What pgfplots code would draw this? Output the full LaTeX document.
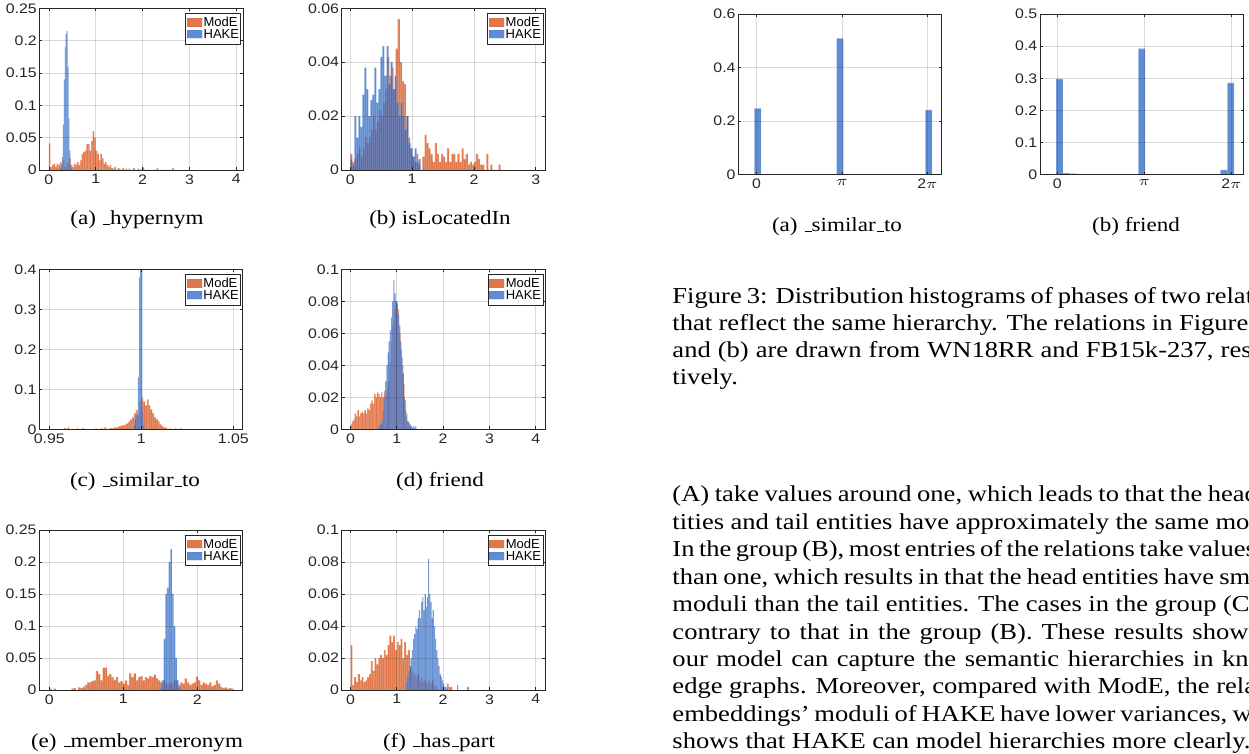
\documentclass[border=0pt]{standalone}
\usepackage{fontspec}
\setmainfont{Liberation Serif}
\newfontfamily\arialf{Liberation Sans}
\usepackage{pgfplots}
\pgfplotsset{compat=1.18}

\definecolor{axgray}{RGB}{38,38,38}
\definecolor{modeC}{RGB}{217,83,25}
\definecolor{hakeC}{RGB}{40,100,195}

\newcommand\tickfont{\arialf\fontsize{6.9}{8}\selectfont}
\newcommand\legfont{\arialf\fontsize{6.5}{6.5}\selectfont}
\newcommand\capfont{\fontsize{10}{12}\selectfont}
\newcommand\bodyfont{\fontsize{11.4}{13.7}\selectfont}
% underscore as LaTeX sets it with Times: a short rule on the baseline
\newcommand\us{\leavevmode\kern.06em\rule{.3em}{0.4pt}}

\pgfplotsset{
  mat/.style={
    scale only axis,
    anchor=south west,
    axis on top,
    axis line style={draw=axgray, line width=0.4pt},
    every tick/.style={draw=axgray, line width=0.35pt},
    tick align=inside,
    major tick length=1.4pt,
    grid=major,
    major grid style={draw=axgray, draw opacity=0.17, line width=0.35pt},
    scaled ticks=false,
    ticklabel style={font=\tickfont, text=axgray, xscale=1.15},
    /pgf/number format/assume math mode=true,
    /pgf/number format/fixed,
    /pgf/number format/precision=3,
    yticklabel style={inner sep=1pt},
    xticklabel style={inner sep=2pt},
    ymin=0,
    legend cell align=left,
    legend style={at={(1,1)}, anchor=north east, xshift=-0.8pt, yshift=-2.3pt,
      draw=axgray, line width=0.45pt, fill=white, inner xsep=0.5pt, inner ysep=1.8pt,
      font=\legfont, row sep=0pt, column sep=0.3pt,
      nodes={inner sep=0.4pt, text height=4.6pt, text depth=0.5pt}},
  },
  modebar/.style={ybar interval, fill=modeC, fill opacity=0.78,
    draw=white, draw opacity=0.15, line width=0.2pt,
    legend image code/.code={\fill[modeC, fill opacity=0.78] (0pt,-1.9pt) rectangle (7.5pt,2.3pt);}},
  hakebar/.style={ybar interval, fill=hakeC, fill opacity=0.74,
    draw=white, draw opacity=0.15, line width=0.2pt,
    legend image code/.code={\fill[hakeC, fill opacity=0.74] (0pt,-1.9pt) rectangle (7.5pt,2.3pt);}},
}

\begin{document}
\begin{tikzpicture}
\path[use as bounding box] (0pt,0pt) rectangle (624.5pt,-377pt);

% (a) _hypernym
\begin{axis}[mat, at={(19.75pt,-85pt)}, width=101.7pt, height=80.85pt,
  xmin=-0.2, xmax=4.14, ymax=0.25, xtick={0,1,2,3,4}, ytick={0,0.05,0.1,0.15,0.2,0.25}]
\addplot[modebar] coordinates {(0,0.041)(0.033,0.005)(0.067,0.008)(0.1,0.010)(0.133,0.005)(0.167,0.010)(0.2,0.008)(0.233,0.012)(0.267,0.010)(0.3,0.015)(0.333,0.005)(0.367,0.010)(0.4,0.012)(0.433,0.018)(0.467,0.008)(0.5,0.005)(0.533,0.010)(0.567,0.008)(0.6,0.012)(0.633,0.008)(0.667,0.015)(0.7,0.025)(0.733,0.028)(0.767,0.030)(0.8,0.040)(0.833,0.040)(0.867,0.030)(0.9,0.045)(0.933,0.060)(0.967,0.050)(1,0.030)(1.033,0.025)(1.067,0.015)(1.1,0.025)(1.133,0.018)(1.167,0.010)(1.2,0.012)(1.233,0.008)(1.267,0.005)(1.3,0.008)(1.333,0.003)(1.367,0.002)(1.4,0.005)(1.433,0)(1.467,0.003)(1.5,0.002)(1.533,0)(1.567,0.003)(1.6,0)(1.633,0.002)(1.667,0)(1.7,0.002)(1.733,0)(1.8,0.003)(1.833,0)(1.9,0.002)(1.933,0)(2,0.004)(2.033,0)(2.3,0.003)(2.333,0)(2.633,0.003)(2.667,0)};
\addplot[hakebar] coordinates {(0.24,0.002)(0.26,0.005)(0.28,0.02)(0.30,0.07)(0.32,0.14)(0.34,0.19)(0.36,0.21)(0.38,0.215)(0.40,0.16)(0.42,0.08)(0.44,0.03)(0.46,0.008)(0.48,0.002)(0.50,0)};
\legend{ModE,HAKE}
\end{axis}

% (b) isLocatedIn
\begin{axis}[mat, at={(170.85pt,-85pt)}, width=101.65pt, height=80.85pt,
  xmin=-0.14, xmax=3.15, ymax=0.06, xtick={0,1,2,3}, ytick={0,0.02,0.04,0.06}]
\addplot[modebar] coordinates {(0,0.006)(0.033,0.003)(0.067,0.004)(0.1,0.006)(0.133,0.008)(0.167,0.005)(0.2,0.008)(0.233,0.012)(0.267,0.010)(0.3,0.012)(0.333,0.015)(0.367,0.020)(0.4,0.015)(0.433,0.018)(0.467,0.022)(0.5,0.020)(0.533,0.025)(0.567,0.030)(0.6,0.042)(0.633,0.035)(0.667,0.038)(0.7,0.030)(0.733,0.045)(0.767,0.056)(0.8,0.040)(0.833,0.033)(0.867,0.032)(0.9,0.020)(0.933,0.012)(0.967,0.008)(1,0.005)(1.033,0.003)(1.067,0.006)(1.1,0.002)(1.133,0)(1.167,0.005)(1.2,0.013)(1.233,0.010)(1.267,0.008)(1.3,0.006)(1.333,0.003)(1.367,0.010)(1.4,0.006)(1.433,0.003)(1.467,0.006)(1.5,0.005)(1.533,0.003)(1.567,0.008)(1.6,0.003)(1.633,0.006)(1.667,0.006)(1.7,0.003)(1.733,0.006)(1.767,0.003)(1.8,0.008)(1.833,0.004)(1.867,0.006)(1.9,0.002)(1.933,0.003)(1.967,0.002)(2,0.003)(2.033,0.006)(2.067,0.004)(2.1,0.002)(2.133,0.002)(2.167,0)(2.2,0.006)(2.233,0)(2.267,0.002)(2.3,0)(2.4,0.002)(2.433,0)};
\addplot[hakebar] coordinates {(0,0.004)(0.0325,0.002)(0.065,0.020)(0.0975,0.012)(0.13,0.020)(0.1625,0.016)(0.195,0.028)(0.2275,0.038)(0.26,0.030)(0.2925,0.020)(0.325,0.026)(0.3575,0.028)(0.39,0.038)(0.4225,0.025)(0.455,0.030)(0.4875,0.042)(0.52,0.046)(0.5525,0.035)(0.585,0.046)(0.6175,0.032)(0.65,0.040)(0.6825,0.030)(0.715,0.035)(0.7475,0.025)(0.78,0.020)(0.8125,0.025)(0.845,0.020)(0.8775,0.015)(0.91,0.020)(0.9425,0.010)(0.975,0.008)(1.0075,0.005)(1.04,0.008)(1.0725,0.003)(1.105,0.004)(1.1375,0)};
\legend{ModE,HAKE}
\end{axis}

% (c) _similar_to
\begin{axis}[mat, at={(19.65pt,-214.65pt)}, width=101.7pt, height=80pt,
  xmin=0.9446, xmax=1.0551, ymax=0.4, xtick={0.95,1,1.05}, ytick={0,0.1,0.2,0.3,0.4}]
\addplot[modebar] coordinates {(0.958,0.003)(0.959,0)(0.960,0.005)(0.961,0)(0.965,0.002)(0.966,0)(0.968,0.003)(0.969,0)(0.975,0.002)(0.976,0)(0.978,0.003)(0.979,0)(0.980,0.005)(0.981,0)(0.983,0.003)(0.984,0.002)(0.985,0.005)(0.986,0.004)(0.987,0.006)(0.988,0.008)(0.989,0.010)(0.990,0.010)(0.991,0.012)(0.992,0.015)(0.993,0.020)(0.994,0.025)(0.995,0.030)(0.996,0.040)(0.997,0.048)(0.998,0.035)(0.999,0.070)(1.000,0.080)(1.001,0.070)(1.002,0.060)(1.003,0.075)(1.004,0.060)(1.005,0.050)(1.006,0.040)(1.007,0.030)(1.008,0.025)(1.009,0.020)(1.010,0.012)(1.011,0.008)(1.012,0.005)(1.013,0.004)(1.014,0)(1.015,0.002)(1.016,0)(1.018,0.002)(1.019,0)(1.021,0.002)(1.022,0)};
\addplot[hakebar] coordinates {(0.9958,0.010)(0.9964,0.025)(0.9970,0.035)(0.9976,0.040)(0.9982,0.130)(0.9988,0.380)(0.9994,0.420)(1.0000,0.420)(1.0006,0.045)(1.0012,0.010)(1.0018,0)};
\legend{ModE,HAKE}
\end{axis}

% (d) friend
\begin{axis}[mat, at={(170.85pt,-214.65pt)}, width=101.65pt, height=80pt,
  xmin=-0.19, xmax=4.2, ymax=0.1, xtick={0,1,2,3,4}, ytick={0,0.02,0.04,0.06,0.08,0.1}]
\addplot[modebar] coordinates {(0,0.003)(0.03,0.005)(0.06,0.006)(0.09,0.010)(0.12,0.008)(0.15,0.012)(0.18,0.008)(0.21,0.010)(0.24,0.011)(0.27,0.010)(0.3,0.012)(0.33,0.010)(0.36,0.013)(0.39,0.012)(0.42,0.016)(0.45,0.018)(0.48,0.016)(0.51,0.022)(0.54,0.020)(0.57,0.023)(0.6,0.022)(0.63,0.020)(0.66,0.023)(0.69,0.020)(0.72,0.024)(0.75,0.021)(0.78,0.025)(0.81,0.030)(0.84,0.042)(0.87,0.055)(0.9,0.065)(0.93,0.075)(0.96,0.080)(0.99,0.080)(1.02,0.075)(1.05,0.060)(1.08,0.050)(1.11,0.040)(1.14,0.028)(1.17,0.018)(1.2,0.010)(1.23,0.005)(1.26,0.003)(1.29,0.001)(1.32,0)};
\addplot[hakebar] coordinates {(0.600,0.002)(0.625,0.003)(0.650,0.003)(0.675,0.006)(0.700,0.012)(0.725,0.020)(0.750,0.030)(0.775,0.040)(0.800,0.048)(0.825,0.055)(0.850,0.062)(0.875,0.070)(0.900,0.080)(0.925,0.093)(0.950,0.085)(0.975,0.080)(1.000,0.078)(1.025,0.072)(1.050,0.065)(1.075,0.055)(1.100,0.045)(1.125,0.035)(1.150,0.020)(1.175,0.012)(1.200,0.008)(1.225,0.005)(1.250,0.004)(1.275,0.003)(1.300,0.002)(1.325,0.001)(1.350,0.002)(1.375,0.001)(1.400,0.002)(1.425,0)};
\legend{ModE,HAKE}
\end{axis}

% (e) _member_meronym
\begin{axis}[mat, at={(19.65pt,-345pt)}, width=101.7pt, height=80pt,
  xmin=-0.135, xmax=2.613, ymax=0.25, xtick={0,1,2}, ytick={0,0.05,0.1,0.15,0.2,0.25}]
\addplot[modebar] coordinates {(0,0.002)(0.03,0)(0.06,0.002)(0.09,0)(0.3,0.002)(0.33,0.003)(0.36,0)(0.39,0.004)(0.42,0.003)(0.45,0.005)(0.48,0.008)(0.51,0.012)(0.54,0.012)(0.57,0.014)(0.6,0.015)(0.63,0.030)(0.66,0.025)(0.69,0.015)(0.72,0.035)(0.75,0.035)(0.78,0.022)(0.81,0.025)(0.84,0.020)(0.87,0.016)(0.9,0.020)(0.93,0.012)(0.96,0.014)(0.99,0.010)(1.02,0.015)(1.05,0.008)(1.08,0.026)(1.11,0.020)(1.14,0.026)(1.17,0.015)(1.2,0.020)(1.23,0.022)(1.26,0.015)(1.29,0.020)(1.32,0.018)(1.35,0.022)(1.38,0.020)(1.41,0.024)(1.44,0.018)(1.47,0.015)(1.5,0.012)(1.53,0.015)(1.56,0.012)(1.59,0.008)(1.62,0.012)(1.65,0.010)(1.68,0.015)(1.71,0.015)(1.74,0.008)(1.77,0.012)(1.8,0.010)(1.83,0.018)(1.86,0.012)(1.89,0.008)(1.92,0.010)(1.95,0.012)(1.98,0.021)(2.01,0.015)(2.04,0.008)(2.07,0.012)(2.1,0.010)(2.13,0.008)(2.16,0.012)(2.19,0.006)(2.22,0.008)(2.25,0.015)(2.28,0.010)(2.31,0.005)(2.34,0.003)(2.37,0.004)(2.4,0.002)(2.43,0.003)(2.46,0.002)(2.49,0)};
\addplot[hakebar] coordinates {(1.5,0.005)(1.5225,0.015)(1.545,0.08)(1.5675,0.15)(1.59,0.16)(1.6125,0.20)(1.635,0.22)(1.6575,0.15)(1.68,0.10)(1.7025,0.05)(1.725,0.015)(1.7475,0.005)(1.77,0)};
\legend{ModE,HAKE}
\end{axis}

% (f) _has_part
\begin{axis}[mat, at={(170.85pt,-345pt)}, width=101.65pt, height=80pt,
  xmin=-0.19, xmax=4.2, ymax=0.1, xtick={0,1,2,3,4}, ytick={0,0.02,0.04,0.06,0.08,0.1}]
\addplot[modebar] coordinates {(0,0.028)(0.04,0.003)(0.08,0.008)(0.12,0.005)(0.16,0.010)(0.2,0.006)(0.24,0.008)(0.28,0.005)(0.32,0.006)(0.36,0.008)(0.4,0.010)(0.44,0.018)(0.48,0.012)(0.52,0.020)(0.56,0.016)(0.6,0.020)(0.64,0.022)(0.68,0.020)(0.72,0.025)(0.76,0.022)(0.8,0.028)(0.84,0.034)(0.88,0.030)(0.92,0.034)(0.96,0.025)(1,0.030)(1.04,0.028)(1.08,0.032)(1.12,0.020)(1.16,0.030)(1.2,0.022)(1.24,0.025)(1.28,0.015)(1.32,0.012)(1.36,0.010)(1.4,0.008)(1.44,0.010)(1.48,0.006)(1.52,0.008)(1.56,0.005)(1.6,0.006)(1.64,0.004)(1.68,0.006)(1.72,0.004)(1.76,0.006)(1.8,0.003)(1.84,0.002)(1.88,0)(1.96,0.002)(2,0)(2.08,0.004)(2.12,0.002)(2.16,0.002)(2.2,0)(2.52,0.002)(2.56,0)};
\addplot[hakebar] coordinates {(1.200,0.005)(1.225,0.008)(1.250,0.012)(1.275,0.015)(1.300,0.020)(1.325,0.025)(1.350,0.032)(1.375,0.035)(1.400,0.040)(1.425,0.038)(1.450,0.045)(1.475,0.050)(1.500,0.045)(1.525,0.055)(1.550,0.058)(1.575,0.050)(1.600,0.060)(1.625,0.052)(1.650,0.058)(1.675,0.082)(1.700,0.060)(1.725,0.055)(1.750,0.045)(1.775,0.050)(1.800,0.040)(1.825,0.032)(1.850,0.025)(1.875,0.020)(1.900,0.015)(1.925,0.010)(1.950,0.008)(1.975,0.006)(2.000,0.004)(2.025,0.002)(2.050,0.002)(2.075,0.001)(2.100,0)(2.300,0.003)(2.325,0)};
\legend{ModE,HAKE}
\end{axis}

% Figure 3 (a) _similar_to phases
\begin{axis}[mat, at={(369.15pt,-87.35pt)}, width=101.7pt, height=80.35pt,
  xmin=-0.675, xmax=6.81, ymax=0.6, xtick={0,3.14159,6.28319},
  xticklabels={0,$\pi$,2$\pi$}, ytick={0,0.2,0.4,0.6}]
\addplot[hakebar] coordinates {(-0.085,0.248)(0.165,0)(2.945,0.509)(3.195,0)(6.21,0.2416)(6.46,0)};
\end{axis}

% Figure 3 (b) friend phases
\begin{axis}[mat, at={(520pt,-87.35pt)}, width=101.65pt, height=80.35pt,
  xmin=-0.625, xmax=6.71, ymax=0.5, xtick={0,3.14159,6.28319},
  xticklabels={0,$\pi$,2$\pi$}, ytick={0,0.1,0.2,0.3,0.4,0.5}]
\addplot[hakebar] coordinates {(-0.048,0.298)(0.199,0.005)(0.447,0.003)(0.694,0)(2.920,0.392)(3.167,0.002)(3.414,0)(3.662,0.002)(3.909,0)(4.156,0.002)(4.403,0)(5.887,0.015)(6.135,0.286)(6.382,0)};
\end{axis}

\begin{scope}
\clip (0pt,0pt) rectangle (624.5pt,-377pt);
\tikzset{subcap/.style={anchor=base, inner sep=0pt, xscale=1.153, font=\capfont},
         bodytxt/.style={anchor=base west, inner sep=0pt, xscale=1.165, font=\bodyfont}}
\node[subcap] at (68.5pt,-112.5pt) {(a) \us hypernym};
\node[subcap] at (220pt,-112.5pt) {(b) isLocatedIn};
\node[subcap] at (67.5pt,-243.5pt) {(c) \us similar\us to};
\node[subcap] at (220pt,-243.5pt) {(d) friend};
\node[subcap] at (68.5pt,-373.5pt) {(e) \us member\us meronym};
\node[subcap] at (219.5pt,-373.5pt) {(f) \us has\us part};
\node[subcap] at (418.5pt,-116pt) {(a) \us similar\us to};
\node[subcap] at (568pt,-116pt) {(b) friend};

\node[bodytxt] at (336pt,-152pt) {\makebox[268.2pt][s]{Figure 3: Distribution histograms of phases of two relations}};
\node[bodytxt] at (336pt,-165.5pt) {\makebox[268.2pt][s]{that reflect the same hierarchy. The relations in Figure 3(a)}};
\node[bodytxt] at (336pt,-179pt) {\makebox[268.2pt][s]{and (b) are drawn from WN18RR and FB15k-237, respec-}};
\node[bodytxt] at (336pt,-192.5pt) {tively.};

\node[bodytxt] at (336pt,-251pt) {\makebox[268.2pt][s]{(A) take values around one, which leads to that the head en-}};
\node[bodytxt] at (336pt,-264.7pt) {\makebox[268.2pt][s]{tities and tail entities have approximately the same moduli.}};
\node[bodytxt] at (336pt,-278.4pt) {\makebox[268.2pt][s]{In the group (B), most entries of the relations take values less}};
\node[bodytxt] at (336pt,-292.1pt) {\makebox[268.2pt][s]{than one, which results in that the head entities have smaller}};
\node[bodytxt] at (336pt,-305.8pt) {\makebox[268.2pt][s]{moduli than the tail entities. The cases in the group (C) are}};
\node[bodytxt] at (336pt,-319.5pt) {\makebox[268.2pt][s]{contrary to that in the group (B). These results show that}};
\node[bodytxt] at (336pt,-333.2pt) {\makebox[268.2pt][s]{our model can capture the semantic hierarchies in knowl-}};
\node[bodytxt] at (336pt,-346.9pt) {\makebox[268.2pt][s]{edge graphs. Moreover, compared with ModE, the relation}};
\node[bodytxt] at (336pt,-360.6pt) {\makebox[268.2pt][s]{embeddings' moduli of HAKE have lower variances, which}};
\node[bodytxt] at (336pt,-374.3pt) {shows that HAKE can model hierarchies more clearly.};
\end{scope}
\end{tikzpicture}
\end{document}
